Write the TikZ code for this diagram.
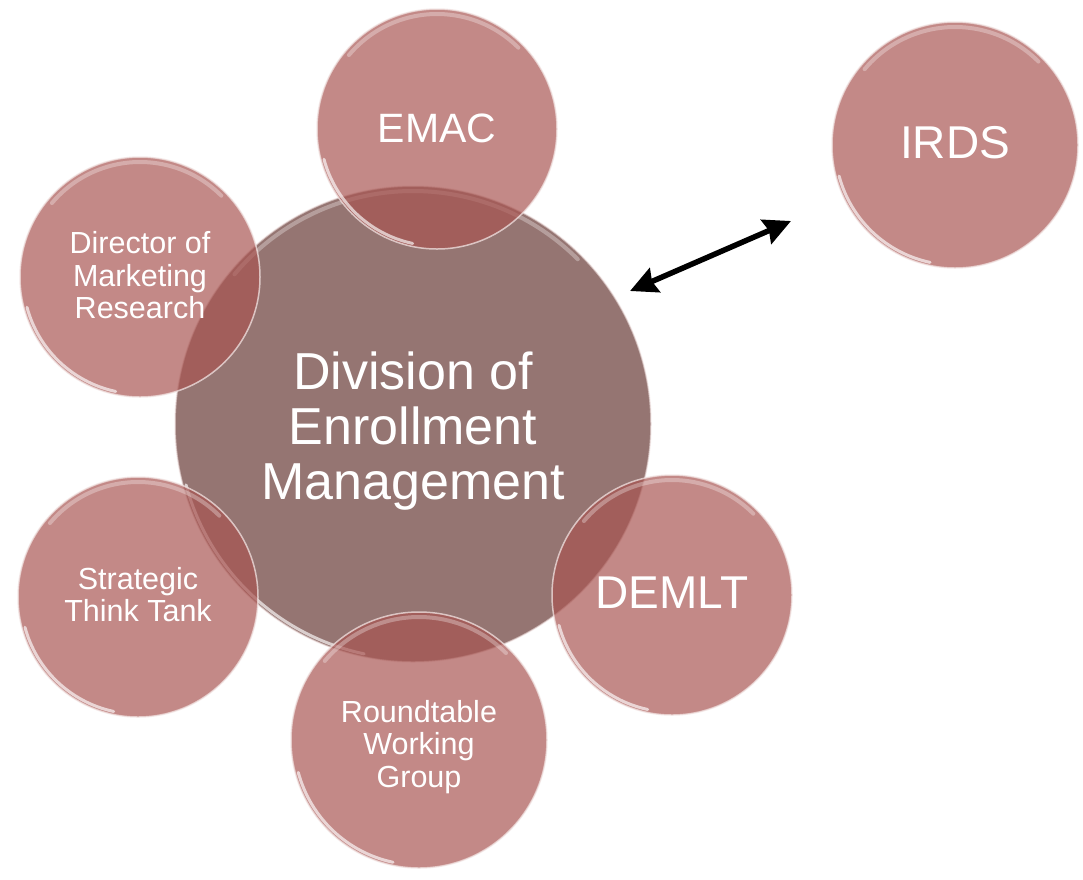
\documentclass[tikz,border=0pt]{standalone}
\usepackage{fontspec}
\setmainfont{Liberation Sans}
\usetikzlibrary{arrows.meta}
\definecolor{bubblefill}{HTML}{A95552}
\definecolor{corefill}{HTML}{957572}
\definecolor{rimcol}{HTML}{F2E4E3}
\newcommand{\dn}[2]{\raisebox{-#1}[\height][\depth]{#2}}
\newcommand{\gloss}[2]{%
  \begin{scope}[y=1pt]
    \draw[glosslow] ([shift={(195:#2-3)}]#1.center) arc[start angle=195, end angle=258, radius=#2-3];
    \draw[glosstop] ([shift={(45:#2-5)}]#1.center) arc[start angle=45, end angle=140, radius=#2-5];
  \end{scope}}
\begin{document}
\begin{tikzpicture}[x=1pt,y=-1pt,
  bubble/.style={circle, inner sep=0pt, fill=bubblefill, fill opacity=0.69,
    draw=rimcol, draw opacity=0.75, line width=1.5pt, text=white, text opacity=1,
    align=center},
  corebox/.style={circle, inner sep=0pt, fill=corefill, draw=rimcol,
    draw opacity=0.6, line width=1.5pt, text=white, align=center,
    font=\fontsize{52}{55}\selectfont},
  smalltext/.style={font=\fontsize{30.5}{32.5}\selectfont},
  glosslow/.style={draw=white, draw opacity=0.65, line width=3pt, line cap=round},
  glosstop/.style={draw=white, draw opacity=0.3, line width=4pt, line cap=round},
  link/.style={line width=5.5pt, {Stealth[length=27pt,width=26pt,inset=3pt]}-{Stealth[length=27pt,width=26pt,inset=3pt]}}
]
\useasboundingbox (0,0) rectangle (1083,879);
\fill[white] (0,0) rectangle (1083,879);

\node[corebox, minimum size=476pt] (dem) at (413,424)
  {\dn{7pt}{Division of}\\\dn{7pt}{Enrollment}\\\dn{7pt}{Management}};
\gloss{dem}{238}

\node[bubble, font=\fontsize{41}{46}\selectfont, minimum size=240pt] (emac) at (437,129) {\dn{-1pt}{EMAC}};
\node[bubble, font=\fontsize{46}{50}\selectfont, minimum size=246pt] (irds) at (955,145) {\dn{-2pt}{IRDS}};
\node[bubble, smalltext, minimum size=240pt] (dir) at (140,277)
  {\dn{-1.5pt}{Director of}\\\dn{-1.5pt}{Marketing}\\\dn{-1.5pt}{Research}};
\node[bubble, smalltext, minimum size=240pt] (stt) at (138,597)
  {\dn{-2.5pt}{Strategic}\\\dn{-2.5pt}{Think Tank}};
\node[bubble, smalltext, minimum size=256pt] (rwg) at (419,740)
  {\dn{7pt}{Roundtable}\\\dn{7pt}{Working}\\\dn{7pt}{Group}};
\node[bubble, font=\fontsize{46}{50}\selectfont, minimum size=240pt] (demlt) at (672,595) {\dn{-2pt}{DEMLT}};

\gloss{emac}{120}
\gloss{irds}{123}
\gloss{dir}{120}
\gloss{stt}{120}
\gloss{rwg}{128}
\gloss{demlt}{120}

\coordinate (a1) at (630,291);
\coordinate (a2) at (791,221);
\draw[link] (a1) -- (a2);
\end{tikzpicture}
\end{document}
